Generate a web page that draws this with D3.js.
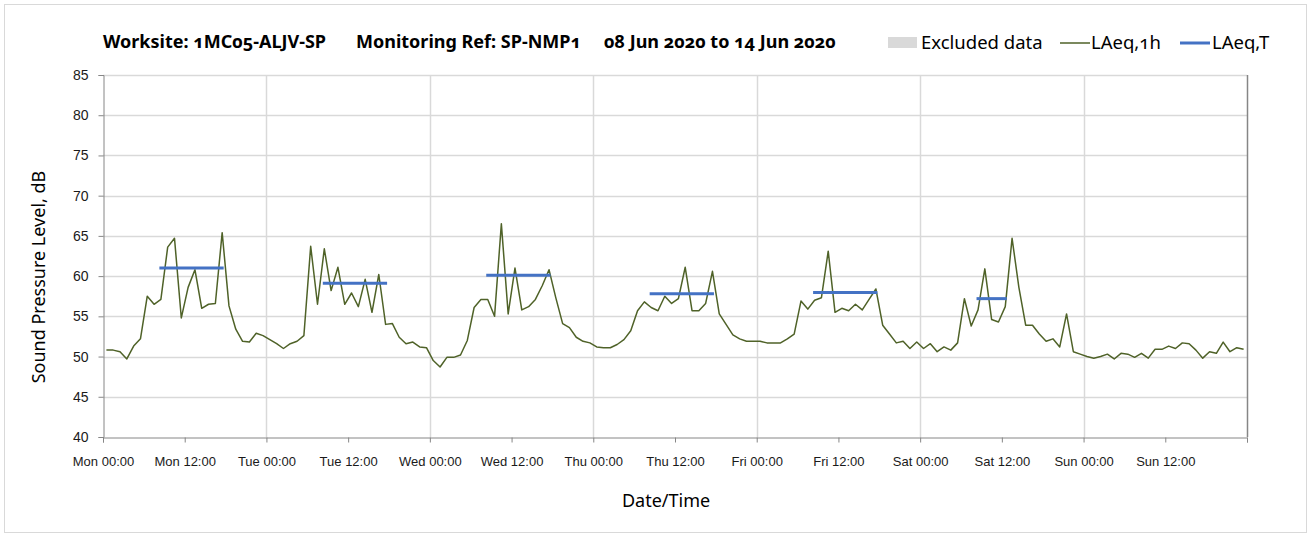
<!DOCTYPE html>
<html lang='en'>

<head>
    <meta charset='utf-8'>
    <title>Noise monitoring</title>
    <style>
        body {
            margin: 0;
            background-color: #ffffff;
            font-family: 'Noto Sans', sans-serif;
        }

        svg text {
            font-variant-numeric: oldstyle-nums;
        }

        .axis path,
        .axis line {
            stroke: #868686;
        }

        .axis text {
            font-size: 13px;
            fill: #1a1a1a;
        }

        .yaxis text {
            font-size: 14px;
        }
    </style>
    <script src='https://d3js.org/d3.v7.min.js' charset='utf-8'></script>
</head>

<body>
    <div id='placeholder'></div>
    <script type="text/javascript">
        const WIDTH = 1311;
        const HEIGHT = 537;

        // hourly LAeq,1h per day (value for hour i plotted at i:30)
        const mon = [50.8, 50.8, 50.6, 49.7, 51.3, 52.2, 57.5, 56.5, 57.1, 63.6, 64.7, 54.8, 58.6, 60.8, 56.0, 56.5, 56.6, 65.4, 56.3, 53.4, 51.9, 51.8, 52.9, 52.6];
        const tue = [52.1, 51.6, 51.0, 51.6, 51.9, 52.6, 63.7, 56.5, 63.4, 58.2, 61.1, 56.5, 57.9, 56.2, 59.6, 55.5, 60.2, 54.0, 54.1, 52.4, 51.6, 51.8, 51.2, 51.1];
        const wed = [49.5, 48.7, 49.9, 49.9, 50.2, 52.0, 56.1, 57.1, 57.1, 55.0, 66.5, 55.3, 61.0, 55.8, 56.2, 57.1, 58.8, 60.8, 57.3, 54.1, 53.6, 52.4, 51.9, 51.7];
        const thu = [51.2, 51.1, 51.1, 51.5, 52.1, 53.2, 55.7, 56.8, 56.1, 55.7, 57.5, 56.6, 57.2, 61.1, 55.7, 55.7, 56.6, 60.6, 55.3, 54.0, 52.7, 52.2, 51.9, 51.9];
        const fri = [51.9, 51.7, 51.7, 51.7, 52.2, 52.8, 56.9, 55.9, 57.0, 57.3, 63.1, 55.5, 56.0, 55.7, 56.5, 55.8, 57.1, 58.4, 53.9, 52.8, 51.7, 51.9, 51.0, 51.8];
        const sat = [51.0, 51.6, 50.6, 51.2, 50.8, 51.7, 57.2, 53.8, 55.8, 60.9, 54.6, 54.3, 56.2, 64.7, 58.6, 53.9, 53.9, 52.8, 51.9, 52.2, 51.2, 55.3, 50.6, 50.3];
        const sun = [50.0, 49.8, 50.0, 50.3, 49.7, 50.4, 50.3, 49.9, 50.4, 49.8, 50.9, 50.9, 51.3, 51.0, 51.7, 51.6, 50.8, 49.8, 50.6, 50.4, 51.8, 50.6, 51.1, 50.9];

        // LAeq,T for the daytime periods: day index, first hour, last hour, level
        const periodDay = [0, 1, 2, 3, 4, 5];
        const periodFrom = [8, 8, 8, 8, 8, 8];
        const periodTo = [17, 17, 17, 17, 17, 12];
        const periodLevel = [61.0, 59.1, 60.1, 57.8, 57.95, 57.2];

        const yTicks = [40, 45, 50, 55, 60, 65, 70, 75, 80, 85];
        const START = Date.UTC(2020, 5, 8);
        const HOUR = 3600 * 1000;

        var hourly = [];
        [mon, tue, wed, thu, fri, sat, sun].forEach(function (day, d) {
            day.forEach(function (v, h) {
                hourly.push({ t: new Date(START + (d * 24 + h + 0.5) * HOUR), v: v });
            });
        });

        var periods = periodDay.map(function (d, i) {
            return {
                t0: new Date(START + (d * 24 + periodFrom[i] + 0.5) * HOUR),
                t1: new Date(START + (d * 24 + periodTo[i] + 0.5) * HOUR),
                v: periodLevel[i]
            };
        });

        const PLOT_L = 103, PLOT_R = 1247, PLOT_T = 75, PLOT_B = 437;

        var x = d3.scaleUtc()
            .domain([new Date(START), new Date(START + 168 * HOUR)])
            .range([PLOT_L, PLOT_R]);
        var y = d3.scaleLinear()
            .domain([40, 85])
            .range([PLOT_B, PLOT_T]);

        var svg = d3.select('#placeholder')
            .append('svg')
            .attr('width', WIDTH)
            .attr('height', HEIGHT);

        svg.append('rect')
            .attr('x', 4.5)
            .attr('y', 4.5)
            .attr('width', WIDTH - 9)
            .attr('height', HEIGHT - 9)
            .attr('fill', '#ffffff')
            .attr('stroke', '#d9d9d9');

        // grid
        svg.append('g')
            .selectAll('line')
            .data(yTicks.slice(1))
            .enter()
            .append('line')
            .attr('x1', PLOT_L)
            .attr('x2', PLOT_R)
            .attr('y1', function (d) { return Math.round(y(d)) + 0.5; })
            .attr('y2', function (d) { return Math.round(y(d)) + 0.5; })
            .attr('stroke', '#d9d9d9')
            .attr('stroke-width', 1.5);

        svg.append('g')
            .selectAll('line')
            .data(d3.utcDay.range(new Date(START + 24 * HOUR), new Date(START + 169 * HOUR)))
            .enter()
            .append('line')
            .attr('x1', function (d) { return Math.round(x(d)) + 0.5; })
            .attr('x2', function (d) { return Math.round(x(d)) + 0.5; })
            .attr('y1', PLOT_T)
            .attr('y2', PLOT_B)
            .attr('stroke', function (d) { return +d === START + 168 * HOUR ? '#868686' : '#d9d9d9'; })
            .attr('stroke-width', 1.5);

        // axes
        svg.append('g')
            .attr('class', 'axis yaxis')
            .attr('transform', 'translate(' + (PLOT_L + 0.5) + ',0)')
            .call(d3.axisLeft(y).tickValues(yTicks).tickSize(5).tickPadding(10).tickFormat(d3.format('d')));

        svg.append('g')
            .attr('class', 'axis')
            .attr('transform', 'translate(0,' + (PLOT_B + 0.5) + ')')
            .call(d3.axisBottom(x).ticks(d3.utcHour.every(12)).tickSize(5).tickPadding(14).tickFormat(d3.utcFormat('%a %H:%M')))
            .selectAll('.tick')
            .filter(function (d) { return +d === START + 168 * HOUR; })
            .select('text')
            .remove();

        // series
        svg.append('path')
            .datum(hourly)
            .attr('fill', 'none')
            .attr('stroke', '#4f6228')
            .attr('stroke-width', 1.5)
            .attr('stroke-linejoin', 'round')
            .attr('d', d3.line()
                .x(function (d) { return x(d.t); })
                .y(function (d) { return y(d.v); }));

        svg.append('g')
            .selectAll('line')
            .data(periods)
            .enter()
            .append('line')
            .attr('x1', function (d) { return x(d.t0); })
            .attr('x2', function (d) { return x(d.t1); })
            .attr('y1', function (d) { return y(d.v); })
            .attr('y2', function (d) { return y(d.v); })
            .attr('stroke', '#4472c4')
            .attr('stroke-width', 3)
            .attr('stroke-linecap', 'square');

        // titles
        var title = svg.append('g')
            .attr('font-size', '18px')
            .attr('font-weight', 'bold')
            .attr('fill', '#000000');
        title.append('text').attr('x', 103).attr('y', 48).text('Worksite: 1MC05-ALJV-SP');
        title.append('text').attr('x', 356).attr('y', 48).text('Monitoring Ref: SP-NMP1');
        title.append('text').attr('x', 604).attr('y', 48).text('08 Jun 2020 to 14 Jun 2020');

        svg.append('text')
            .attr('transform', 'translate(45,' + 277 + ') rotate(-90)')
            .attr('text-anchor', 'middle')
            .attr('font-size', '18px')
            .text('Sound Pressure Level, dB');

        svg.append('text')
            .attr('x', 666)
            .attr('y', 507)
            .attr('text-anchor', 'middle')
            .attr('font-size', '18px')
            .text('Date/Time');

        // legend
        var legend = svg.append('g').attr('font-size', '18.5px');
        legend.append('rect')
            .attr('x', 888).attr('y', 37).attr('width', 29).attr('height', 11)
            .attr('fill', '#d9d9d9');
        legend.append('text').attr('x', 921).attr('y', 49).text('Excluded data');
        legend.append('line')
            .attr('x1', 1060).attr('x2', 1090).attr('y1', 43).attr('y2', 43)
            .attr('stroke', '#4f6228').attr('stroke-width', 1.5);
        legend.append('text').attr('x', 1091).attr('y', 49).text('LAeq,1h');
        legend.append('line')
            .attr('x1', 1180).attr('x2', 1210).attr('y1', 43).attr('y2', 43)
            .attr('stroke', '#4472c4').attr('stroke-width', 3);
        legend.append('text').attr('x', 1212).attr('y', 49).text('LAeq,T');
    </script>
</body>

</html>
